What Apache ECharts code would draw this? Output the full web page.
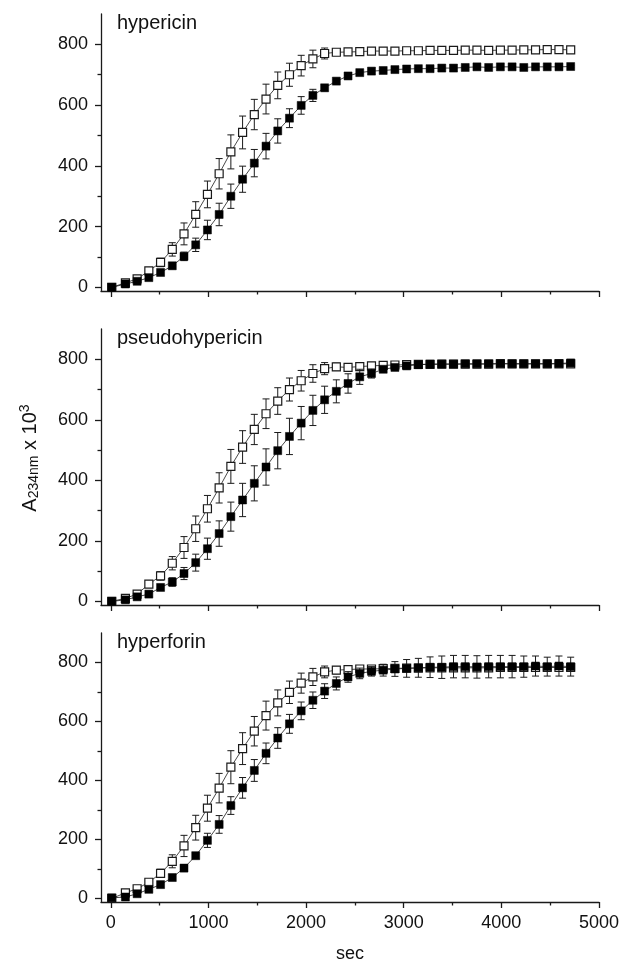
<!DOCTYPE html>
<html>
<head>
<meta charset="UTF-8">
<title>A234 kinetics</title>
<script src="https://cdn.jsdelivr.net/npm/echarts@6/dist/echarts.min.js"></script>
<style>
  html, body { margin: 0; padding: 0; background: #fff; }
  #chart { width: 623px; height: 964px; }
</style>
</head>
<body>
<div id="chart"></div>
<script>
// sampling times (sec)
var times = [10, 150, 270, 390, 510, 630, 750, 870, 990, 1110, 1230, 1350, 1470, 1590, 1710, 1830, 1950, 2070, 2190, 2310,
             2430, 2550, 2670, 2790, 2910, 3030, 3150, 3270, 3390, 3510, 3630, 3750, 3870, 3990, 4110, 4230, 4350, 4470, 4590, 4710];

var titles = ['hypericin', 'pseudohypericin', 'hyperforin'];

// hypericin
var hypOpen = [0, 15, 28, 54, 82, 125, 176, 240, 306, 374, 446, 510, 569, 620, 665, 700, 730, 752, 770, 774,
               775, 776, 778, 778, 778, 779, 779, 780, 780, 780, 781, 781, 780, 781, 781, 782, 782, 783, 783, 782];
var hypOpenErr = [3, 4, 6, 8, 14, 22, 36, 42, 44, 50, 56, 54, 50, 49, 44, 38, 34, 29, 18, 8,
                  5, 5, 5, 5, 5, 5, 5, 5, 5, 5, 5, 6, 5, 6, 5, 6, 6, 6, 6, 6];
var hypFill = [0, 11, 20, 32, 49, 71, 102, 140, 189, 240, 300, 356, 409, 465, 515, 557, 599, 632, 657, 679,
               696, 707, 712, 714, 717, 719, 720, 720, 722, 722, 724, 726, 724, 726, 726, 724, 726, 726, 726, 727];
var hypFillErr = [3, 3, 4, 6, 8, 10, 14, 22, 32, 37, 40, 43, 45, 42, 40, 31, 29, 20, 10, 5,
                  4, 4, 4, 4, 4, 4, 4, 4, 4, 4, 4, 4, 4, 4, 4, 4, 4, 4, 4, 4];

// pseudohypericin
var psOpen = [0, 10, 24, 57, 84, 126, 178, 240, 306, 375, 446, 510, 568, 620, 662, 700, 729, 753, 769, 775,
              773, 776, 778, 780, 781, 782, 783, 783, 784, 784, 784, 784, 784, 785, 785, 785, 785, 785, 785, 785];
var psOpenErr = [3, 4, 6, 8, 14, 22, 36, 42, 44, 50, 56, 54, 50, 49, 44, 38, 34, 29, 20, 12,
                 8, 6, 5, 5, 5, 5, 5, 5, 5, 5, 5, 5, 5, 5, 5, 5, 5, 5, 5, 5];
var psFill = [0, 5, 15, 24, 46, 64, 92, 128, 174, 224, 280, 335, 390, 444, 498, 545, 589, 631, 666, 694,
              720, 742, 753, 767, 773, 778, 782, 784, 784, 784, 785, 785, 785, 786, 785, 785, 785, 785, 786, 788];
var psFillErr = [3, 4, 5, 8, 10, 14, 20, 28, 35, 42, 48, 55, 58, 60, 60, 60, 55, 50, 45, 38,
                 32, 25, 15, 8, 5, 5, 5, 5, 5, 5, 5, 5, 5, 5, 5, 5, 5, 5, 5, 10];

// hyperforin
var hfOpen = [0, 19, 33, 55, 85, 126, 178, 240, 306, 374, 445, 508, 567, 620, 663, 699, 730, 751, 768, 774,
              776, 778, 778, 779, 780, 781, 781, 782, 782, 782, 782, 782, 782, 783, 783, 783, 783, 783, 783, 783];
var hfOpenErr = [3, 4, 6, 8, 14, 22, 36, 42, 44, 50, 56, 54, 50, 49, 44, 38, 34, 29, 20, 12,
                 8, 6, 5, 5, 5, 5, 5, 5, 5, 5, 5, 5, 5, 5, 5, 5, 5, 5, 5, 5];
var hfFill = [2, 5, 16, 31, 47, 71, 103, 145, 197, 251, 315, 375, 434, 492, 544, 592, 636, 672, 703, 729,
              751, 763, 770, 774, 778, 780, 782, 784, 784, 786, 786, 785, 786, 786, 786, 786, 788, 786, 788, 786];
var hfFillErr = [3, 4, 6, 8, 10, 10, 12, 10, 24, 30, 30, 35, 37, 35, 35, 32, 30, 28, 25, 22,
                 18, 18, 16, 20, 25, 30, 32, 35, 38, 38, 38, 38, 38, 38, 38, 36, 34, 32, 34, 32];

var xLabels = [0, 1000, 2000, 3000, 4000, 5000];
var xMinor = [500, 1500, 2500, 3500, 4500];
var yLabels = [0, 200, 400, 600, 800];
var yMinor = [100, 300, 500, 700];

var panels = [
    [hypOpen, hypOpenErr, hypFill, hypFillErr],
    [psOpen, psOpenErr, psFill, psFillErr],
    [hfOpen, hfOpenErr, hfFill, hfFillErr]
];
var gridTops = [14, 329, 633];
var gridH = [277, 276, 276];
var FONT = 'Liberation Sans, Arial, sans-serif';
var INK = '#1a1a1a';

var chart = echarts.init(document.getElementById('chart'));

function pairs(ys) {
    return ys.map(function (v, i) { return [times[i], v]; });
}
function errData(ys, es) {
    return ys.map(function (v, i) { return [times[i], v - es[i], v + es[i]]; });
}
function renderErr(params, api) {
    var x = api.value(0);
    var lo = api.coord([x, api.value(1)]);
    var hi = api.coord([x, api.value(2)]);
    var w = 3.5;
    var st = { stroke: INK, lineWidth: 1 };
    return {
        type: 'group',
        children: [
            { type: 'line', shape: { x1: lo[0], y1: lo[1], x2: hi[0], y2: hi[1] }, style: st },
            { type: 'line', shape: { x1: lo[0] - w, y1: lo[1], x2: lo[0] + w, y2: lo[1] }, style: st },
            { type: 'line', shape: { x1: hi[0] - w, y1: hi[1], x2: hi[0] + w, y2: hi[1] }, style: st }
        ]
    };
}
function plain(v) { return String(v); }

var grids = [], xAxes = [], yAxes = [], series = [], graphics = [];
var axisLine = { show: true, onZero: false, lineStyle: { color: INK, width: 1.3 } };

panels.forEach(function (p, i) {
    var last = i === 2;
    grids.push({ left: 101, right: 24, top: gridTops[i], height: gridH[i] });
    // major x axis
    xAxes.push({
        type: 'value', gridIndex: i, position: 'bottom', min: -100, max: 5000,
        axisLine: axisLine, splitLine: { show: false },
        axisTick: { show: true, length: 6, customValues: xLabels, lineStyle: { color: INK, width: 1.3 } },
        axisLabel: { show: last, customValues: xLabels, formatter: plain, fontSize: 18, color: '#111', fontFamily: FONT, margin: 12 },
        name: last ? 'sec' : '', nameLocation: 'middle', nameGap: 43,
        nameTextStyle: { fontSize: 18, color: '#111', fontFamily: FONT }
    });
    yAxes.push({
        type: 'value', gridIndex: i, position: 'left', min: -12, max: 900,
        axisLine: axisLine, splitLine: { show: false },
        axisTick: { show: true, length: 6, customValues: yLabels, lineStyle: { color: INK, width: 1.3 } },
        axisLabel: { show: true, customValues: yLabels, formatter: plain, fontSize: 18, color: '#111', fontFamily: FONT, margin: 13 }
    });
    graphics.push({
        type: 'text', left: 117, top: gridTops[i] - 1,
        style: { text: titles[i], fontSize: 20, fill: '#111', fontFamily: FONT }
    });
});
// minor tick axes
panels.forEach(function (p, i) {
    xAxes.push({
        type: 'value', gridIndex: i, position: 'bottom', min: -100, max: 5000,
        axisLine: { show: false, onZero: false }, splitLine: { show: false }, axisLabel: { show: false },
        axisTick: { show: true, length: 3.5, customValues: xMinor, lineStyle: { color: INK, width: 1.3 } }
    });
    yAxes.push({
        type: 'value', gridIndex: i, position: 'left', min: -12, max: 900,
        axisLine: { show: false, onZero: false }, splitLine: { show: false }, axisLabel: { show: false },
        axisTick: { show: true, length: 3.5, customValues: yMinor, lineStyle: { color: INK, width: 1.3 } }
    });
});

panels.forEach(function (p, i) {
    var common = { xAxisIndex: i, yAxisIndex: i, animation: false, silent: true };
    series.push(Object.assign({
        type: 'custom', renderItem: renderErr, data: errData(p[0], p[1]), z: 2
    }, common));
    series.push(Object.assign({
        type: 'line', data: pairs(p[0]), symbol: 'rect', symbolSize: 8, z: 3,
        lineStyle: { color: INK, width: 0.8 },
        itemStyle: { color: '#fff', borderColor: INK, borderWidth: 1.2 }
    }, common));
    series.push(Object.assign({
        type: 'custom', renderItem: renderErr, data: errData(p[2], p[3]), z: 4
    }, common));
    series.push(Object.assign({
        type: 'line', data: pairs(p[2]), symbol: 'rect', symbolSize: 8, z: 5,
        lineStyle: { color: INK, width: 0.8 },
        itemStyle: { color: '#000', borderColor: '#000', borderWidth: 0.5 }
    }, common));
});

graphics.push({
    type: 'text', x: 30, y: 458, rotation: Math.PI / 2,
    style: {
        text: 'A{sub|234nm} x 10{sup|3}',
        align: 'center', verticalAlign: 'middle',
        fontSize: 20, fill: '#111', fontFamily: FONT,
        rich: {
            sub: { fontSize: 14, fontFamily: FONT, fill: '#111', verticalAlign: 'bottom', padding: [9, 0, 0, 0] },
            sup: { fontSize: 14, fontFamily: FONT, fill: '#111', verticalAlign: 'top', padding: [0, 0, 9, 0] }
        }
    }
});

chart.setOption({
    backgroundColor: '#fff',
    animation: false,
    grid: grids,
    xAxis: xAxes,
    yAxis: yAxes,
    series: series,
    graphic: graphics
});
</script>
</body>
</html>
